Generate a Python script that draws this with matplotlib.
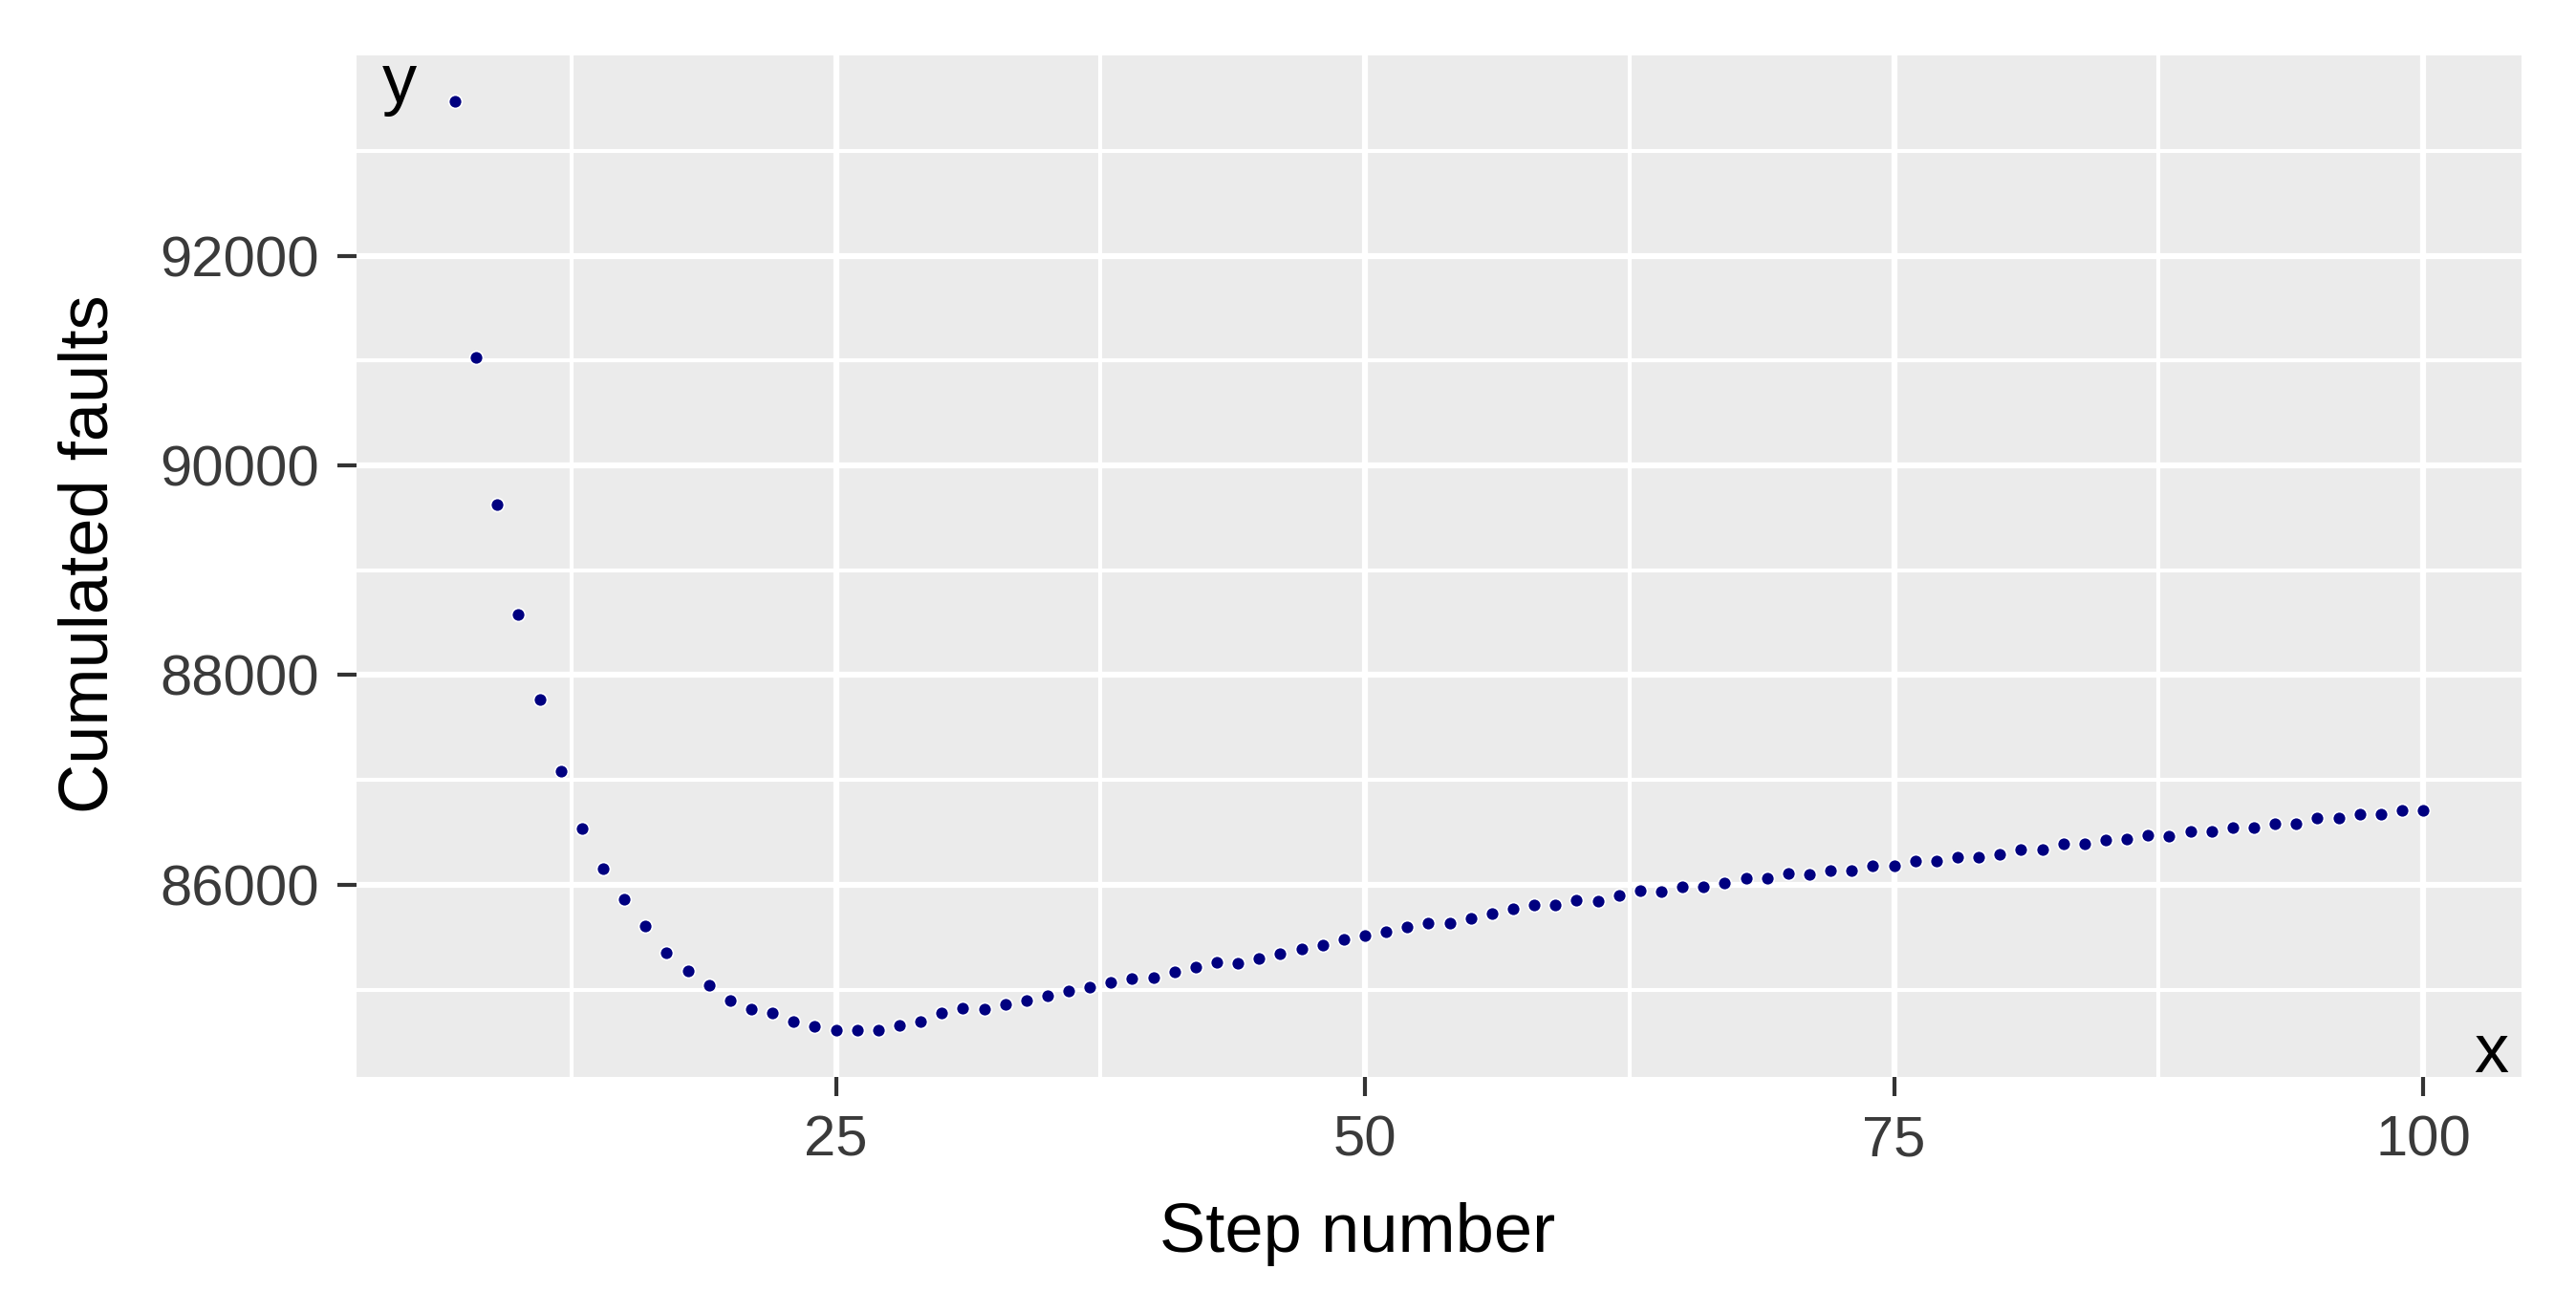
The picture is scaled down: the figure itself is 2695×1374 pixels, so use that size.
import numpy as np
import matplotlib.pyplot as plt

plt.rcParams['font.family'] = ['Liberation Sans', 'DejaVu Sans']

steps = list(range(7, 101))
faults = [
    93470, 91030, 89630, 88580, 87770, 87080, 86535, 86150, 85860, 85608,
    85355, 85180, 85040, 84900, 84815, 84780, 84694, 84654, 84611, 84611,
    84611, 84657, 84699, 84782, 84824, 84815, 84860, 84900, 84940, 84987,
    85025, 85073, 85110, 85112, 85167, 85212, 85258, 85252, 85294, 85342,
    85385, 85424, 85476, 85515, 85555, 85597, 85636, 85636, 85682, 85727,
    85773, 85809, 85809, 85858, 85848, 85900, 85948, 85939, 85979, 85979,
    86020, 86067, 86067, 86107, 86101, 86140, 86140, 86183, 86178, 86225,
    86226, 86263, 86263, 86293, 86338, 86338, 86387, 86387, 86425, 86436,
    86474, 86462, 86511, 86511, 86549, 86549, 86586, 86586, 86639, 86639,
    86677, 86677, 86714, 86714,
]
x_ticks = [25, 50, 75, 100]
x_minor = [12.5, 37.5, 62.5, 87.5]
y_ticks = [86000, 88000, 90000, 92000]
y_minor = [85000, 87000, 89000, 91000, 93000]

fig = plt.figure(figsize=(26.95, 13.74), dpi=100)
ax = fig.add_axes([0.1384, 0.1798, 0.9789 - 0.1384, 0.958 - 0.1798])
ax.set_facecolor('#EBEBEB')
for s in ax.spines.values():
    s.set_visible(False)

ax.scatter(steps, faults, s=100, color='#000080', edgecolors='white',
           linewidths=1.2, zorder=3)

# ggplot-like 5% expansion
xr = max(steps) - min(steps)
yr = max(faults) - min(faults)
ax.set_xlim(min(steps) - 0.05 * xr, max(steps) + 0.05 * xr)
ax.set_ylim(min(faults) - 0.05 * yr, max(faults) + 0.05 * yr)

ax.set_xticks(x_ticks)
ax.set_xticks(x_minor, minor=True)
ax.set_yticks(y_ticks)
ax.set_yticks(y_minor, minor=True)
ax.grid(which='major', color='white', linewidth=4.5, zorder=0)
ax.grid(which='minor', color='white', linewidth=3.0, zorder=0)
ax.set_axisbelow(True)

ax.tick_params(which='major', length=14.4, width=3, color='#333333',
               labelsize=43, labelcolor='#3a3a3a')
ax.tick_params(axis='x', which='major', pad=14)
ax.tick_params(axis='y', which='major', pad=14)
ax.tick_params(which='minor', length=0)

ax.set_xlabel('Step number', fontsize=52, va='baseline')
ax.xaxis.set_label_coords(0.527, 0.0466, transform=fig.transFigure)
ax.set_ylabel('Cumulated faults', fontsize=52, va='baseline')
ax.yaxis.set_label_coords(0.0416, 0.578, transform=fig.transFigure)

fig.text(0.155, 0.922, 'y', fontsize=52, ha='center', va='baseline')
fig.text(0.967, 0.1834, 'x', fontsize=52, ha='center', va='baseline')

fig.savefig('out.png', dpi=100)
